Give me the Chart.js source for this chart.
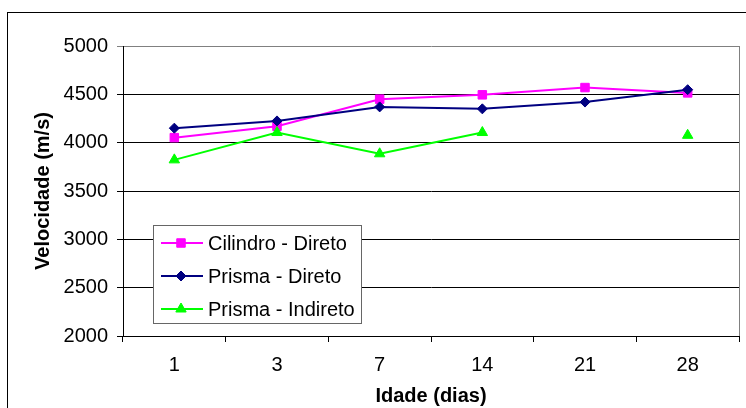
<!DOCTYPE html>
<html>
<head>
<meta charset="utf-8">
<style>
  html, body { margin: 0; padding: 0; background: #fff; }
  #chart { display: block; }
</style>
<script src="https://cdn.jsdelivr.net/npm/chart.js"></script>
</head>
<body>
<canvas id="chart" width="746" height="408"></canvas>
<script>
// Idade (dias) x velocidade de pulso ultrassonico
const idades = ['1', '3', '7', '14', '21', '28'];
const cilindroDireto = [4052, 4170, 4450, 4495, 4570, 4515];
const prismaDireto = [4150, 4225, 4370, 4350, 4420, 4548];
const prismaIndireto = [3822, 4105, 3885, 4105, null, 4076];
const yTicks = { min: 2000, max: 5000, step: 500 };

const FONT = "'Liberation Sans', Arial, sans-serif";
Chart.defaults.font.family = FONT;
Chart.defaults.font.size = 20;
Chart.defaults.color = '#000';

/* outer frame + gray plot border (right side) */
const framePlugin = {
  id: 'frame',
  beforeDraw(chart) {
    const ctx = chart.ctx;
    ctx.save();
    ctx.fillStyle = '#fff';
    ctx.fillRect(0, 0, chart.width, chart.height);
    ctx.strokeStyle = '#000';
    ctx.lineWidth = 1;
    ctx.strokeRect(7.5, 12.5, 900, 600);
    ctx.restore();
  },
  afterDatasetsDraw(chart) {
    const { ctx, chartArea: a } = chart;
    ctx.save();
    ctx.strokeStyle = '#808080';
    ctx.lineWidth = 1;
    ctx.beginPath();
    ctx.moveTo(Math.round(a.right) + 0.5, a.top);
    ctx.lineTo(Math.round(a.right) + 0.5, a.bottom);
    ctx.stroke();
    ctx.restore();
  }
};

/* legend box inside the plot area, like the Excel one */
const boxLegend = {
  id: 'boxLegend',
  afterDraw(chart) {
    const ctx = chart.ctx;
    const x = 153.5, y = 225.5, w = 208, h = 98;
    ctx.save();
    ctx.fillStyle = '#fff';
    ctx.fillRect(x, y, w, h);
    ctx.strokeStyle = '#666';
    ctx.lineWidth = 1;
    ctx.strokeRect(x, y, w, h);
    ctx.font = '20px ' + FONT;
    ctx.textBaseline = 'middle';
    chart.data.datasets.forEach((ds, i) => {
      const cy = 243 + i * 33;
      ctx.strokeStyle = ds.borderColor;
      ctx.lineWidth = ds.borderWidth;
      ctx.beginPath();
      ctx.moveTo(161, cy);
      ctx.lineTo(203, cy);
      ctx.stroke();
      ctx.fillStyle = ds.pointBackgroundColor;
      ctx.strokeStyle = ds.pointBorderColor;
      ctx.lineWidth = ds.pointBorderWidth;
      Chart.helpers.drawPoint(ctx, {
        pointStyle: ds.pointStyle, radius: ds.pointRadius,
        borderWidth: ds.pointBorderWidth, rotation: 0
      }, 181, cy);
      ctx.fillStyle = '#000';
      ctx.fillText(ds.label, 208, cy + 1);
    });
    ctx.restore();
  }
};

function serie(label, data, color, style, radius, order) {
  return {
    label, data, order,
    borderColor: color,
    backgroundColor: color,
    borderWidth: 2,
    pointStyle: style,
    pointRadius: radius,
    pointHoverRadius: radius,
    pointBackgroundColor: color,
    pointBorderColor: color,
    pointBorderWidth: 1,
    tension: 0,
    spanGaps: false
  };
}

new Chart(document.getElementById('chart'), {
  type: 'line',
  data: {
    labels: idades,
    datasets: [
      serie('Cilindro - Direto', cilindroDireto, '#ff00ff', 'rect', 6, 3),
      serie('Prisma - Direto', prismaDireto, '#000080', 'rectRot', 5, 2),
      serie('Prisma - Indireto', prismaIndireto, '#00ff00', 'triangle', 6, 1)
    ]
  },
  options: {
    responsive: false,
    animation: false,
    layout: { padding: { left: 0, top: 46, right: 4, bottom: 0 } },
    plugins: {
      legend: { display: false },
      tooltip: { enabled: false }
    },
    scales: {
      x: {
        offset: true,
        afterFit(scale) { scale.height = 72; },
        grid: {
          offset: true,
          drawOnChartArea: false,
          drawTicks: true,
          tickLength: 6,
          color: '#000'
        },
        border: { display: true, color: '#000', width: 1 },
        ticks: { padding: 11, maxRotation: 0, font: { size: 20 } },
        title: {
          display: true,
          text: 'Idade (dias)',
          font: { size: 20, weight: 'bold' },
          padding: { top: 0, bottom: 0 }
        }
      },
      y: {
        min: yTicks.min,
        max: yTicks.max,
        afterFit(scale) { scale.width = 123; },
        grid: {
          tickLength: 6,
          color: ctx => (ctx.tick && ctx.tick.value === yTicks.max) ? '#808080' : '#000'
        },
        border: { display: true, color: '#000', width: 1 },
        ticks: {
          stepSize: yTicks.step,
          padding: 9,
          font: { size: 20 },
          callback: v => String(v)
        },
        title: {
          display: true,
          text: 'Velocidade (m/s)',
          font: { size: 20, weight: 'bold' },
          padding: { top: 31, bottom: 0 }
        }
      }
    }
  },
  plugins: [framePlugin, boxLegend]
});
</script>
</body>
</html>
